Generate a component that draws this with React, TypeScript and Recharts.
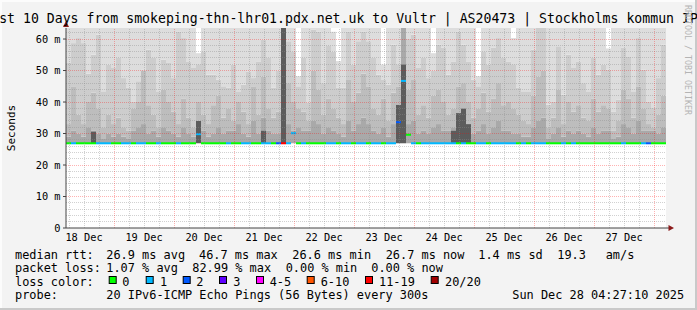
import { BarChart, Bar, Cell, XAxis, YAxis, CartesianGrid, ReferenceLine, ReferenceDot } from "recharts";

const FONT = "'DejaVu Sans Mono', monospace";

// 2-hour bins, 10 days (Dec 18 04:48 -> Dec 28 04:48)
const maxRtt = [
  64, 64, 64, 64, 64, 64, 64, 64, 64, 64,
  64, 64, 64, 64, 64, 64, 64, 64, 64, 64,
  64, 64, 64, 64, 64, 64, 55.5, 64, 64, 64,
  64, 64, 64, 64, 64, 64, 64, 64, 64, 64,
  64, 64, 64, 64, 64, 64, 48.2, 64, 64, 64,
  64, 64, 64, 62.3, 53, 64, 64, 64, 64, 64,
  64, 64, 64, 51.9, 64, 64, 64, 64, 64, 64,
  64, 64, 64, 55.5, 64, 64, 64, 64, 64, 64,
  64, 64, 48.2, 64, 64, 64, 64, 64, 64, 60.3,
  64, 64, 64, 64, 64, 64, 64, 64, 64, 64,
  64, 64, 64, 64, 64, 64, 64, 64, 57, 64,
  64, 64, 64, 64, 64, 64, 64, 64, 64, 64,
];

const highRtt = [
  52.4, 58.7, 60.3, 58.7, 49.0, 55.0, 61.4, 43.4, 51.9, 50.8,
  54.0, 47.6, 44.5, 40.2, 46.6, 50.3, 56.6, 54.0, 43.4, 53.4,
  52.4, 47.6, 62.4, 60.3, 52.9, 50.8, 52.0, 56.1, 48.7, 48.7,
  47.1, 45.0, 44.5, 51.9, 43.4, 45.5, 49.7, 47.6, 52.9, 59.8,
  54.0, 44.5, 50.0, 35.0, 59.3, 56.1, 45.0, 54.0, 39.7, 63.0,
  62.4, 46.0, 58.0, 56.0, 44.5, 44.5, 62.4, 51.9, 59.3, 62.4,
  59.3, 54.0, 48.7, 47.0, 45.5, 58.2, 52.0, 60.0, 60.0, 61.4,
  50.8, 54.0, 47.6, 50.0, 58.2, 57.2, 48.7, 52.9, 62.4, 58.2,
  52.9, 47.1, 45.0, 56.1, 51.9, 57.2, 60.3, 54.0, 52.9, 52.0,
  44.5, 43.4, 43.4, 56.6, 64.0, 64.0, 39.2, 40.2, 57.7, 42.3,
  55.0, 50.8, 52.9, 46.0, 43.4, 54.0, 48.7, 51.9, 50.3, 37.0,
  40.8, 57.2, 54.5, 43.4, 60.3, 50.3, 40.2, 38.1, 47.6, 58.2,
];

const midRtt = [
  33, 45, 36, 33, 40, 43, 38, 32, 36, 33,
  35, 32, 31, 38, 40, 50, 39, 36, 32, 44,
  40, 37, 33, 41, 35, 32, 40, 36, 33, 39,
  42, 35, 38, 34, 40, 37, 33, 45, 36, 48,
  38, 35, 37, 35, 46, 40, 38, 37, 34, 50,
  44, 36, 41, 38, 35, 33, 47, 40, 43, 49,
  45, 38, 36, 41, 34, 43, 45, 40, 44, 47,
  36, 39, 35, 42, 44, 40, 36, 38, 45, 46,
  40, 35, 38, 43, 37, 41, 46, 39, 40, 38,
  36, 34, 33, 42, 48, 50, 32, 35, 44, 33,
  40, 37, 39, 35, 34, 41, 37, 39, 38, 31,
  34, 44, 41, 35, 45, 38, 33, 32, 36, 42,
];

const lowRtt = [
  29, 31, 30, 29, 32, 31, 30, 28.5, 30, 29,
  30, 29, 28.5, 31, 32, 33, 30, 31, 29, 32,
  31, 30, 29, 32, 30, 29, 33, 31, 29, 30,
  32, 30, 31, 31, 33, 30, 29, 34, 30, 35,
  31, 30, 30, 30, 33, 31, 32, 31, 31, 34,
  33, 30, 32, 31, 30, 29, 34, 31, 33, 35,
  33, 31, 30, 32, 29, 33, 34, 64, 33, 34,
  30, 31, 30, 32, 33, 31, 31, 32, 33, 34,
  31, 30, 31, 33, 30, 32, 34, 31, 31, 30,
  30, 29, 29, 32, 34, 35, 28.5, 30, 32, 29,
  31, 30, 31, 30, 29, 32, 30, 31, 31, 28.5,
  29, 33, 32, 30, 34, 31, 31, 31, 30, 32,
];

// dark core of the smoke (0 = none)
const coreRtt = [
  0, 0, 0, 0, 0, 30.7, 0, 0, 0, 0,
  0, 0, 0, 0, 0, 0, 0, 0, 0, 0,
  0, 0, 0, 0, 0, 0, 34, 0, 0, 0,
  0, 0, 0, 0, 0, 0, 0, 0, 0, 31,
  0, 0, 0, 64, 0, 0, 0, 0, 0, 0,
  0, 0, 0, 0, 0, 0, 0, 0, 0, 0,
  0, 0, 0, 0, 0, 0, 39.2, 52, 0, 0,
  0, 0, 0, 0, 0, 0, 0, 31, 36.5, 38,
  33, 0, 0, 0, 0, 0, 0, 0, 0, 0,
  0, 0, 0, 0, 0, 0, 0, 0, 0, 0,
  0, 0, 0, 0, 0, 0, 0, 0, 0, 0,
  0, 0, 0, 0, 0, 0, 0, 0, 0, 0,
];

const medianRtt = [
  26.9, 26.9, 26.9, 26.9, 26.9, 26.9, 26.9, 26.9, 26.9, 26.9,
  26.9, 26.9, 26.9, 26.9, 26.9, 26.9, 26.9, 26.9, 26.9, 26.9,
  26.9, 26.9, 26.9, 26.9, 26.9, 26.9, 29.8, 26.9, 26.9, 26.9,
  26.9, 26.9, 26.9, 26.9, 26.9, 26.9, 26.9, 26.9, 26.9, 26.9,
  26.9, 26.9, 26.9, 26.9, 26.9, 30.1, 26.9, 26.9, 26.9, 26.9,
  26.9, 26.9, 26.9, 26.9, 26.9, 26.9, 26.9, 26.9, 26.9, 26.9,
  26.9, 26.9, 26.9, 26.9, 26.9, 26.9, 33.6, 46.7, 29.6, 26.9,
  26.9, 26.9, 26.9, 26.9, 26.9, 26.9, 26.9, 26.9, 26.9, 26.9,
  26.9, 26.9, 26.9, 26.9, 26.9, 26.9, 26.9, 26.9, 26.9, 26.9,
  26.9, 26.9, 26.9, 26.9, 26.9, 26.9, 26.9, 26.9, 26.9, 26.9,
  26.9, 26.9, 26.9, 26.9, 26.9, 26.9, 26.9, 26.9, 26.9, 26.9,
  26.9, 26.9, 26.9, 26.9, 26.9, 26.9, 26.9, 26.9, 26.9, 26.9,
];

// loss class per bin (index into lossColors)
const lossClass = [
  0, 1, 0, 0, 0, 0, 1, 1, 1, 0,
  0, 1, 1, 0, 1, 1, 0, 0, 1, 0,
  0, 0, 1, 0, 0, 0, 1, 0, 0, 0,
  0, 0, 1, 0, 0, 1, 1, 0, 0, 1,
  1, 0, 2, 6, 1, 1, 0, 1, 0, 0,
  0, 0, 1, 1, 0, 1, 1, 0, 1, 1,
  0, 1, 1, 0, 1, 1, 2, 1, 0, 1,
  0, 1, 1, 1, 1, 1, 1, 1, 0, 1,
  0, 0, 1, 1, 0, 1, 1, 1, 1, 1,
  0, 1, 0, 1, 1, 1, 0, 0, 0, 1,
  0, 1, 0, 0, 0, 0, 0, 0, 0, 0,
  0, 1, 0, 0, 0, 1, 2, 0, 0, 0,
];

const smokeFloor = 26.9;

const lossColors = ["#00ff00", "#00b8ff", "#0059ff", "#5e00ff", "#ff00fe", "#ff5500", "#ff0000", "#a10000"];
const lossLabels = ["0", "1", "2", "3", "4-5", "6-10", "11-19", "20/20"];

const yTicks = [0, 10, 20, 30, 40, 50, 60];
const dayTicks = [7.2, 31.2, 55.2, 79.2, 103.2, 127.2, 151.2, 175.2, 199.2, 223.2];
const dayLabels = ["18 Dec", "19 Dec", "20 Dec", "21 Dec", "22 Dec", "23 Dec", "24 Dec", "25 Dec", "26 Dec", "27 Dec"];
const midnights = [19.2, 43.2, 67.2, 91.2, 115.2, 139.2, 163.2, 187.2, 211.2, 235.2];

const rows = highRtt.map((high, i) => {
  const t1 = Math.max(coreRtt[i], smokeFloor);
  const t2 = Math.max(lowRtt[i], t1);
  const t3 = Math.max(midRtt[i], t2);
  const t4 = Math.max(high, t3);
  const t5 = Math.max(maxRtt[i], t4);
  return {
    bin: i,
    hour: 2 * i + 1,
    base: smokeFloor,
    core: t1 - smokeFloor,
    low: t2 - t1,
    mid: t3 - t2,
    high: t4 - t3,
    top: t5 - t4,
    medBase: medianRtt[i] - 0.32,
    med: 0.64,
  };
});

const hourLines: number[] = [];
for (let h = 1.2; h < 240; h += 6) {
  if (!midnights.some((m) => Math.abs(m - h) < 0.01)) hourLines.push(Math.round(h * 10) / 10);
}
const minorY: number[] = [];
for (let v = 2; v < 63.5; v += 2) if (v % 10 !== 0) minorY.push(v);

const smoke = [
  { key: "core", color: "#5c5c5c" },
  { key: "low", color: "#a9a9a9" },
  { key: "mid", color: "#bdbdbd" },
  { key: "high", color: "#cdcdcd" },
  { key: "top", color: "#dddddd" },
];

// legend rows: [text, x]
const rttLine: [string, number][] = [
  ["median rtt:", 15],
  ["26.9 ms avg", 106.3],
  ["46.7 ms max", 199],
  ["26.6 ms min", 292.3],
  ["26.7 ms now", 385.7],
  ["1.4 ms sd", 478.3],
  ["19.3", 557.3],
  ["am/s", 605.7],
];
const lossLine: [string, number][] = [
  ["packet loss:", 15],
  ["1.07 % avg", 106.3],
  ["82.99 % max", 192.3],
  ["0.00 % min", 285.7],
  ["0.00 % now", 371.3],
];
const probeLine: [string, number][] = [
  ["probe:", 15],
  ["20 IPv6-ICMP Echo Pings (56 Bytes) every 300s", 106.3],
  ["Sun Dec 28 04:27:10 2025", 512.3],
];
const boxX = [108.7, 145.7, 182.7, 219, 256, 306.7, 365, 430.7];
const boxLabelX = [122.3, 160, 196.3, 233.3, 269.7, 320.7, 379, 445];

const upArrow = (p: any) => (
  <polygon points={`${p.cx - 3},${p.cy - 1} ${p.cx + 3},${p.cy - 1} ${p.cx},${p.cy - 7}`} fill="#8b1a1a" />
);
const rightArrow = (p: any) => (
  <g>
    <line x1={p.cx} y1={p.cy} x2={p.cx + 3} y2={p.cy} stroke="#444" />
    <polygon points={`${p.cx + 2.5},${p.cy - 3} ${p.cx + 2.5},${p.cy + 3} ${p.cx + 8},${p.cy}`} fill="#8b1a1a" />
  </g>
);

const TextRow = ({ items, y }: { items: [string, number][]; y: number }) => (
  <>
    {items.map(([t, x]) => (
      <text key={t} x={x} y={y} fontSize={11.9} fill="#000">
        {t}
      </text>
    ))}
  </>
);

const App = () => {
  return (
    <div
      style={{
        position: "absolute",
        left: 0,
        top: 0,
        width: 697,
        height: 310,
        background: "#f3f3f3",
        boxShadow: "inset -2px -2px 0 #c9c9c9, inset 2px 2px 0 #fcfcfc",
        fontFamily: FONT,
      }}
    >
      <BarChart
        width={697}
        height={310}
        data={rows}
        margin={{ top: 28, right: 31, bottom: 52, left: 0 }}
        barCategoryGap={0}
        barGap={0}
      >
        <CartesianGrid xAxisId="t" fill="#ffffff" horizontal={false} vertical={false} />
        <XAxis xAxisId="c" dataKey="bin" hide height={0} />
        <XAxis xAxisId="m" dataKey="bin" hide height={0} />
        <XAxis
          xAxisId="t"
          dataKey="hour"
          type="number"
          domain={[0, 240]}
          allowDataOverflow
          ticks={dayTicks}
          interval={0}
          tickFormatter={(v, i) => dayLabels[i]}
          tickLine={false}
          tickSize={0}
          tickMargin={6}
          height={30}
          axisLine={{ stroke: "#444" }}
          tick={{ fontSize: 10.3, fill: "#000", fontFamily: FONT }}
        />
        <YAxis
          domain={[0, 63.5]}
          allowDataOverflow
          ticks={yTicks}
          interval={0}
          width={66}
          tickSize={3}
          tickMargin={2.5}
          tickFormatter={(v) => (v === 0 ? "0" : `${v} m`)}
          axisLine={{ stroke: "#444" }}
          tickLine={{ stroke: "#444" }}
          tick={{ fontSize: 10.3, fill: "#000", fontFamily: FONT }}
        />

        <Bar xAxisId="c" stackId="s" dataKey="base" fill="transparent" isAnimationActive={false} />
        {smoke.map((s) => (
          <Bar key={s.key} xAxisId="c" stackId="s" dataKey={s.key} fill={s.color} isAnimationActive={false} />
        ))}

        {minorY.map((v) => (
          <ReferenceLine key={`y${v}`} xAxisId="t" y={v} stroke="#8c8c8c" strokeOpacity={0.4} strokeDasharray="1 1" shapeRendering="crispEdges" />
        ))}
        {hourLines.map((h) => (
          <ReferenceLine key={`h${h}`} xAxisId="t" x={h} stroke="#8c8c8c" strokeOpacity={0.4} strokeDasharray="1 1" shapeRendering="crispEdges" />
        ))}
        {yTicks.slice(1).map((v) => (
          <ReferenceLine key={`Y${v}`} xAxisId="t" y={v} stroke="#ff0000" strokeOpacity={0.3} strokeDasharray="1 1" shapeRendering="crispEdges" />
        ))}
        {midnights.map((h) => (
          <ReferenceLine key={`M${h}`} xAxisId="t" x={h} stroke="#ff0000" strokeOpacity={0.3} strokeDasharray="1 1" shapeRendering="crispEdges" />
        ))}

        <Bar xAxisId="m" stackId="m" dataKey="medBase" fill="transparent" isAnimationActive={false} />
        <Bar xAxisId="m" stackId="m" dataKey="med" isAnimationActive={false}>
          {rows.map((r, i) => (
            <Cell key={i} fill={lossColors[lossClass[i]]} />
          ))}
        </Bar>

        <ReferenceDot xAxisId="t" x={0} y={63.5} ifOverflow="visible" shape={upArrow} />
        <ReferenceDot xAxisId="t" x={240} y={0} ifOverflow="visible" shape={rightArrow} />
      </BarChart>

      <svg
        width={697}
        height={310}
        style={{ position: "absolute", left: 0, top: 0, pointerEvents: "none" }}
        fontFamily={FONT}
      >
        <text x={348.5} y={23} fontSize={13.2} textAnchor="middle" fill="#000">
          Last 10 Days from smokeping-thn-lhr01.pdx.net.uk to Vultr | AS20473 | Stockholms kommun IPv6
        </text>
        <text x={685} y={5} fontSize={8.3} fill="#b4b4b4" transform="rotate(90, 685, 5)">
          RRDTOOL / TOBI OETIKER
        </text>
        <text x={15} y={128} fontSize={11} textAnchor="middle" fill="#000" transform="rotate(-90, 15, 128)">
          Seconds
        </text>

        <TextRow items={rttLine} y={258.5} />
        <TextRow items={lossLine} y={272} />

        <text x={15} y={285.7} fontSize={11.9} fill="#000">loss color:</text>
        {lossLabels.map((l, i) => (
          <g key={l}>
            <rect x={boxX[i] + 0.5} y={276.5} width={7} height={7} fill={lossColors[i]} stroke="#000" />
            <text x={boxLabelX[i]} y={285.7} fontSize={11.9} fill="#000">{l}</text>
          </g>
        ))}

        <TextRow items={probeLine} y={299.3} />
      </svg>
    </div>
  );
};

export default App;
